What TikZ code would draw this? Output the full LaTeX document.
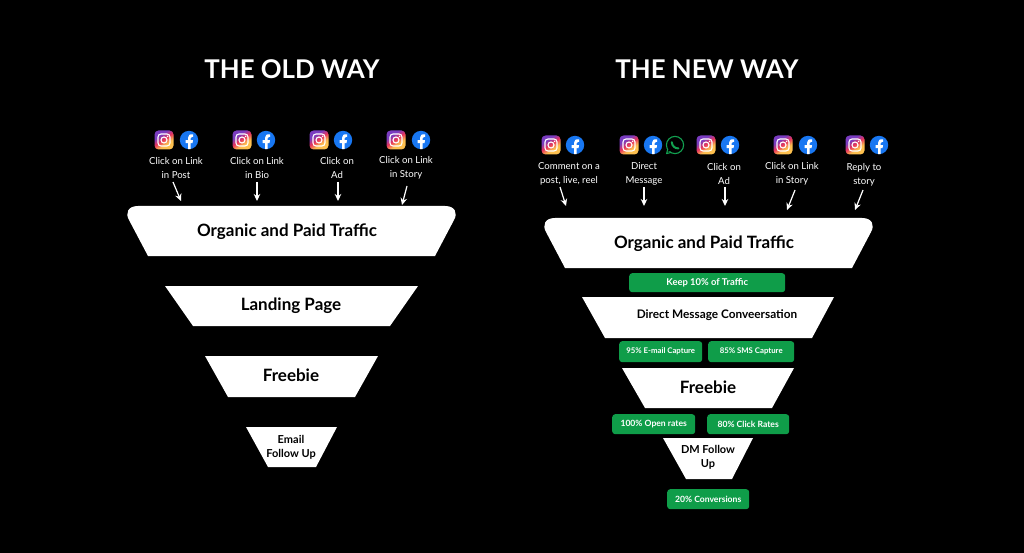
\documentclass[tikz,border=0pt]{standalone}
\usepackage{fontspec}
\setmainfont{Lato}
\usetikzlibrary{arrows.meta}
\definecolor{gbox}{HTML}{0F9D49}
\definecolor{fbblue}{HTML}{1877F2}
\definecolor{wagreen}{HTML}{12A150}
\definecolor{igyellow}{HTML}{FDC04F}
\definecolor{igred}{HTML}{E8345C}
\definecolor{igpurple}{HTML}{7A3CC0}
\pgfdeclareverticalshading{igshade}{100bp}{color(0bp)=(igyellow);color(38bp)=(igyellow);color(52bp)=(igred);color(66bp)=(igpurple);color(100bp)=(igpurple)}
\tikzset{
  igicon/.pic={
    \node[shading=igshade,shading angle=35,minimum size=19pt,inner sep=0pt,rounded corners=4pt] (-bg) at (0,0) {};
    \draw[white,line width=1.1pt,rounded corners=3pt] (-6,-6) rectangle (6,6);
    \draw[white,line width=1.1pt] (0,0) circle (3pt);
    \fill[white] (3.6,-3.6) circle (0.8pt);
  },
  fbicon/.pic={
    \fill[fbblue] (0,0) circle (9.2pt);
    \fill[white] (-1,9.1) -- (-1,3.2) -- (-3.4,3.2) -- (-3.4,0.2) -- (-1,0.2) -- (-1,-2.2)
      .. controls (-1,-5) and (1,-6.2) .. (4,-5.6) -- (4,-3) -- (2.8,-3)
      .. controls (1.8,-3) and (1.6,-2.6) .. (1.6,-1.6) -- (1.6,0.2) -- (4,0.2) -- (3.5,3.2) -- (1.6,3.2) -- (1.6,9.1) -- cycle;
  },
  waicon/.pic={
    \draw[wagreen,line width=1.1pt] (0,0) circle (8.6pt);
    \fill[black] (-6,5) circle (1.6pt);
    \draw[wagreen,line width=1.1pt,line join=round] (-7.2,4) -- (-8.4,8.6) -- (-3.8,7.4);
    \draw[wagreen,line width=2pt,line cap=round] (-3.2,-2.8) .. controls (-3,1) and (0,3.6) .. (3.4,3.4);
  },
  lbl/.style={white,align=center,font=\fontsize{9.6}{13.5}\selectfont,inner sep=0pt},
  ttl/.style={white,font=\fontsize{25.8}{28}\selectfont\bfseries,inner sep=0pt},
  bigt/.style={black,align=center,font=\fontsize{17}{19}\selectfont\bfseries,inner sep=0pt},
  smallt/.style={black,align=center,font=\fontsize{11}{14}\selectfont\bfseries,inner sep=0pt},
  gbx/.style={fill=gbox,rounded corners=3pt,text=white,font=\fontsize{8.6}{10}\selectfont\bfseries,inner sep=0pt,anchor=north west},
  arw/.style={white,line width=1.2pt,-{Stealth[length=7pt,width=6.5pt]}}
}
\newcommand{\sharpfunnel}[6]{%
  \fill[white] (#2,#1) -- (#3,#1) -- (#6,#4) -- (#5,#4) -- cycle;}
\newcommand{\roundfunnel}[6]{%
  \fill[white] (#5,#4) -- (#2+2,#1+14) .. controls (#2-2,#1+7) and (#2+1,#1) .. (#2+11,#1)
    -- (#3-11,#1) .. controls (#3-1,#1) and (#3+2,#1+7) .. (#3-2,#1+14) -- (#6,#4) -- cycle;}
\begin{document}
\begin{tikzpicture}[x=1pt,y=-1pt]
\fill[black] (0,0) rectangle (1024,553);
\useasboundingbox (0,0) rectangle (1024,553);

\node[ttl] (oldway) at (292,69) {THE OLD WAY};
\node[ttl] (newway) at (707,69) {THE NEW WAY};

% icons
\foreach \x in {164,242,319,396}{
  \pic at (\x,140) {igicon};
}
\foreach \x in {189,266,343,421}{
  \pic at (\x,140) {fbicon};
}
\foreach \x in {551,629,706,783,855}{
  \pic at (\x,145) {igicon};
}
\foreach \x in {575,653,730,808,879}{
  \pic at (\x,145) {fbicon};
}
\pic at (675,145) {waicon};

% labels
\node[lbl] (oldlbla) at (176,168) {Click on Link\\in Post};
\node[lbl] (oldlblb) at (257,168) {Click on Link\\in Bio};
\node[lbl] (oldlblc) at (337,168) {Click on\\Ad};
\node[lbl] (oldlbld) at (406,168) {Click on Link\\in Story};
\node[lbl] (newlbla) at (569,174) {Comment on a\\post, live, reel};
\node[lbl] (newlblb) at (644,174) {Direct\\Message};
\node[lbl] (newlblc) at (724,174) {Click on\\Ad};
\node[lbl] (newlbld) at (792,174) {Click on Link\\in Story};
\node[lbl] (newlble) at (864,175) {Reply to\\story};

% arrows
\foreach \n/\xa/\ya/\xb/\yb in {a/173/182/181/201,b/257/182/257/201,c/338/182/338/201,d/407/186/402/205,
  e/560/187/566/206,f/644/187/644/206,g/725/187/725/206,h/795/190/787/210,i/863/190/855/210}{
  \coordinate (s\n) at (\xa,\ya);
  \coordinate (e\n) at (\xb,\yb);
  \draw[arw] (s\n) -- (e\n);
}

% old funnel
\roundfunnel{206}{127}{456}{256}{148}{435}
\sharpfunnel{286}{165}{418}{326}{193}{390}
\sharpfunnel{356}{205}{378}{397}{228}{355}
\sharpfunnel{427}{246}{337}{467}{268}{316}
\node[bigt] (oldtraffic) at (287,232) {Organic and Paid Traffic};
\node[bigt] (oldlanding) at (291,306) {Landing Page};
\node[bigt] (oldfreebie) at (291,375) {Freebie};
\node[smallt] (oldemail) at (291,447) {Email\\Follow Up};

% new funnel
\roundfunnel{218}{544}{873}{268}{565}{852}
\sharpfunnel{297}{582}{834}{338}{605}{812}
\sharpfunnel{368}{622}{794}{408}{645}{772}
\sharpfunnel{438}{663}{753}{479}{686}{732}
\node[bigt] (newtraffic) at (704,244) {Organic and Paid Traffic};
\node[bigt,font=\fontsize{11.8}{14}\selectfont\bfseries] (newdm) at (717,315) {Direct Message Conveersation};
\node[bigt] (newfreebie) at (708,387) {Freebie};
\node[smallt] (newfollow) at (708,457) {DM Follow\\Up};

% green boxes
\node[gbx,minimum width=156pt,minimum height=19pt,font=\fontsize{9.4}{10}\selectfont\bfseries] (keep) at (629,273) {Keep 10\% of Traffic};
\node[gbx,minimum width=83pt,minimum height=21pt,font=\fontsize{7.8}{10}\selectfont\bfseries] (email) at (619,341) {95\% E-mail Capture};
\node[gbx,minimum width=86pt,minimum height=21pt,font=\fontsize{7.8}{10}\selectfont\bfseries] (sms) at (708,341) {85\% SMS Capture};
\node[gbx,minimum width=83pt,minimum height=20pt] (open) at (612,414) {100\% Open rates};
\node[gbx,minimum width=82pt,minimum height=20pt] (click) at (707,414) {80\% Click Rates};
\node[gbx,minimum width=82pt,minimum height=20pt] (conv) at (667,489) {20\% Conversions};
\end{tikzpicture}
\end{document}
